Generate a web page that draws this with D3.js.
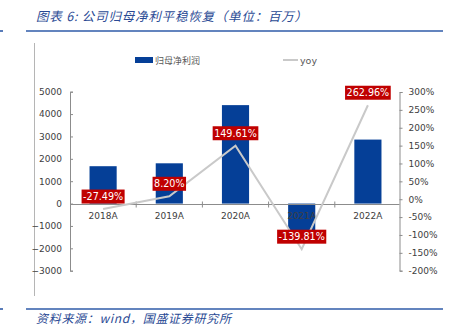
<!DOCTYPE html>
<html><head><meta charset="utf-8">
<script src="https://cdn.jsdelivr.net/npm/d3@7"></script>
<style>
html,body{margin:0;padding:0;background:#fff;}
svg{display:block;}
</style></head>
<body>
<script>
const categories = ["2018A","2019A","2020A","2021A","2022A"];
const profit = [1670, 1800, 4400, -1750, 2860];
const yoy = [-27.49, 8.20, 149.61, -139.81, 262.96];
const yoyLabels = ["-27.49%","8.20%","149.61%","-139.81%","262.96%"];
const leftTicks = [5000,4000,3000,2000,1000,0,-1000,-2000,-3000];
const rightTicks = [300,250,200,150,100,50,0,-50,-100,-150,-200];
const titleText = "图表 6:  公司归母净利平稳恢复（单位：百万）";
const sourceText = "资料来源：wind，国盛证券研究所";
const legendNames = ["归母净利润","yoy"];

const W = 449, H = 334;
const svg = d3.select("body").append("svg").attr("width", W).attr("height", H);
const blue = "#053f97", red = "#c00000", grey = "#c9c9c9", axisC = "#8c8c8c";
const font = "DejaVu Sans";

// header
svg.append("text").attr("x", 36).attr("y", 21).text(titleText)
  .attr("font-family", "Noto Sans CJK SC").attr("font-size", 12.5).attr("letter-spacing", 0.8)
  .attr("font-style", "italic").attr("fill", "#2a4a94");
svg.append("line").attr("x1", 26).attr("x2", 443).attr("y1", 31).attr("y2", 31)
  .attr("stroke", "#2f5ba8").attr("stroke-width", 1.6);
svg.append("line").attr("x1", 0).attr("x2", 3).attr("y1", 31).attr("y2", 31)
  .attr("stroke", "#2f5ba8").attr("stroke-width", 1.6);
svg.append("line").attr("x1", 34.5).attr("x2", 34.5).attr("y1", 43).attr("y2", 296)
  .attr("stroke", "#b5b5b5").attr("stroke-width", 1);
// footer
svg.append("line").attr("x1", 26).attr("x2", 443).attr("y1", 309).attr("y2", 309)
  .attr("stroke", "#2f5ba8").attr("stroke-width", 1.6);
svg.append("line").attr("x1", 0).attr("x2", 3).attr("y1", 309).attr("y2", 309)
  .attr("stroke", "#2f5ba8").attr("stroke-width", 1.6);
svg.append("text").attr("x", 36).attr("y", 323).text(sourceText)
  .attr("font-family", "Noto Sans CJK SC").attr("font-size", 12).attr("letter-spacing", 0.7)
  .attr("font-style", "italic").attr("fill", "#2a4a94");

// scales
const x = d3.scaleBand().domain(categories).range([70, 401]).paddingInner(0.59).paddingOuter(0.295);
const step = x.step();
const yL = d3.scaleLinear().domain([-3000, 5000]).range([270.7, 91.7]);
const yR = d3.scaleLinear().domain([-200, 300]).range([270.7, 92]);

// left axis
const gL = svg.append("g").attr("transform", "translate(70,0)");
gL.call(d3.axisLeft(yL).tickValues(leftTicks).tickSize(-3).tickPadding(8).tickFormat(d3.format("d")));
gL.select(".domain").attr("stroke", axisC);
gL.selectAll(".tick line").attr("stroke", axisC);
gL.selectAll("text").attr("font-family", font).attr("font-size", 9).attr("fill", "#404040");

// right axis
const gR = svg.append("g").attr("transform", "translate(399.5,0)");
gR.call(d3.axisRight(yR).tickValues(rightTicks).tickSize(3).tickPadding(6).tickFormat(d => d + "%"));
gR.select(".domain").attr("stroke", axisC);
gR.selectAll(".tick line").attr("stroke", axisC);
gR.selectAll("text").attr("font-family", font).attr("font-size", 9).attr("fill", "#404040");

// bars
svg.append("g").selectAll("rect").data(categories).join("rect")
  .attr("x", d => x(d))
  .attr("width", x.bandwidth())
  .attr("y", (d, i) => Math.min(yL(profit[i]), yL(0)))
  .attr("height", (d, i) => Math.abs(yL(profit[i]) - yL(0)))
  .attr("fill", blue);

// zero line + category ticks
const y0 = Math.round(yL(0)) + 0.5;
svg.append("line").attr("x1", 70).attr("x2", 399.5).attr("y1", y0).attr("y2", y0)
  .attr("stroke", axisC).attr("stroke-width", 1);
svg.append("g").selectAll("line").data(categories.slice(1)).join("line")
  .attr("x1", d => x(d) - (step - x.bandwidth()) / 2).attr("x2", d => x(d) - (step - x.bandwidth()) / 2)
  .attr("y1", y0 - 3).attr("y2", y0 + 3).attr("stroke", axisC);

// category labels
svg.append("g").selectAll("text").data(categories).join("text")
  .attr("x", d => x(d) + x.bandwidth() / 2).attr("y", y0 + 14)
  .attr("text-anchor", "middle").attr("font-family", font).attr("font-size", 9)
  .attr("fill", "#404040").text(d => d);

// yoy line
const line = d3.line().x((d, i) => x(categories[i]) + x.bandwidth() / 2).y(d => yR(d));
svg.append("path").datum(yoy).attr("d", line).attr("fill", "none")
  .attr("stroke", grey).attr("stroke-width", 2);

// yoy labels
const lg = svg.append("g");
yoy.forEach((v, i) => {
  const cx = x(categories[i]) + x.bandwidth() / 2;
  const cy = yR(v) - 12.5;
  const g = lg.append("g");
  const t = g.append("text").attr("x", cx).attr("y", cy + 3.6).attr("text-anchor", "middle")
    .attr("font-family", font).attr("font-size", 9.6).attr("fill", "#fff").text(yoyLabels[i]);
  const w = t.node().getComputedTextLength() + 3;
  g.insert("rect", "text").attr("x", cx - w / 2).attr("y", cy - 7).attr("width", w).attr("height", 14)
    .attr("fill", red);
});

// legend
svg.append("rect").attr("x", 135).attr("y", 57).attr("width", 18).attr("height", 6).attr("fill", blue);
svg.append("text").attr("x", 155).attr("y", 63.5).text(legendNames[0])
  .attr("font-family", "Noto Sans CJK SC").attr("font-size", 9).attr("fill", "#595959");
svg.append("line").attr("x1", 283).attr("x2", 298).attr("y1", 60).attr("y2", 60)
  .attr("stroke", grey).attr("stroke-width", 2);
svg.append("text").attr("x", 300).attr("y", 63.5).text(legendNames[1])
  .attr("font-family", font).attr("font-size", 9.5).attr("fill", "#595959");
</script>
</body></html>
